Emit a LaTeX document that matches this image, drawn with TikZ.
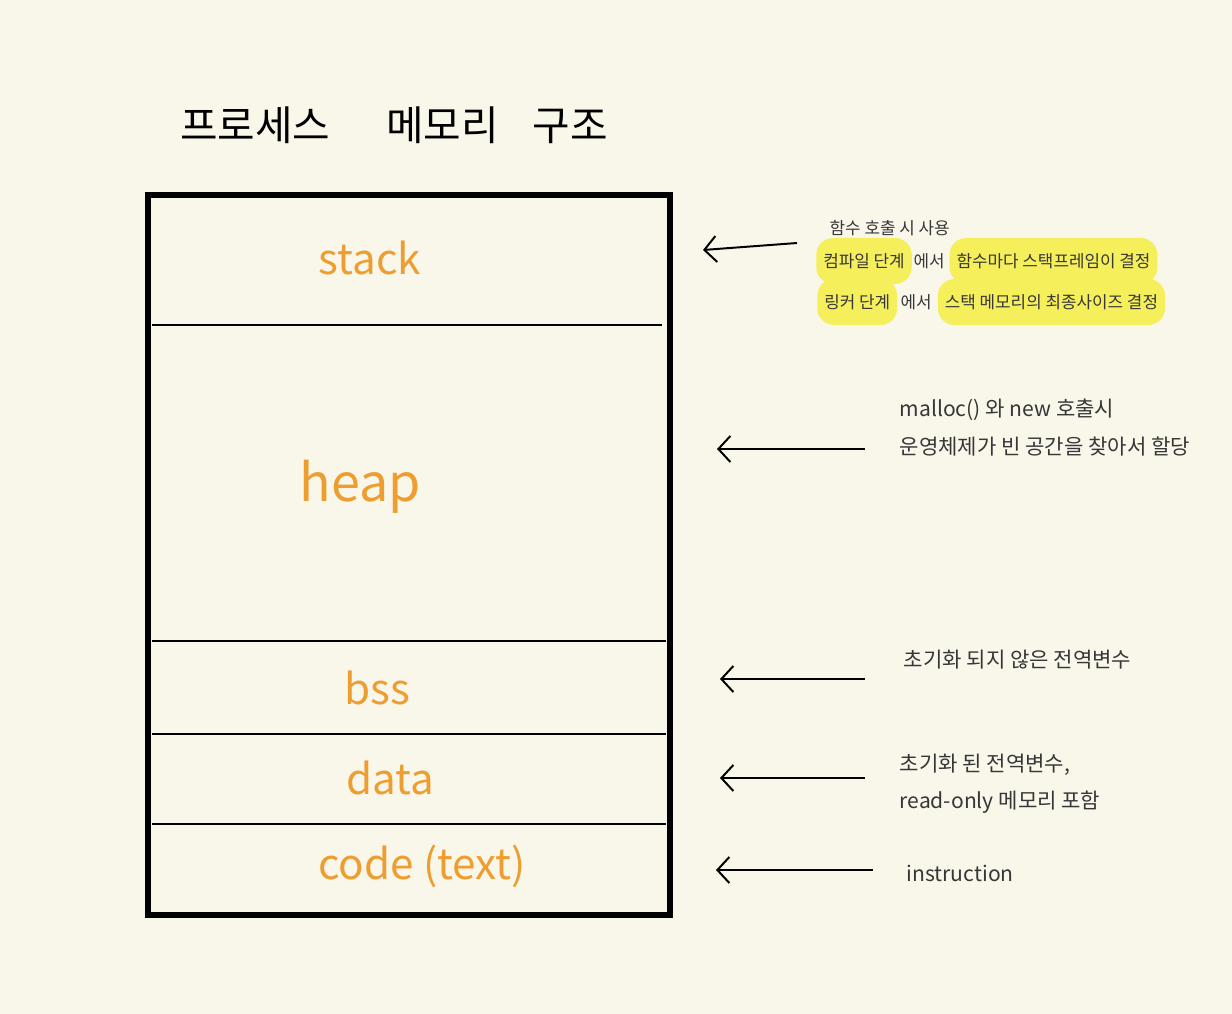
\documentclass[tikz,border=0pt]{standalone}
\usepackage{fontspec}
\setmainfont{Noto Sans CJK KR}
\usetikzlibrary{arrows.meta,positioning}
\definecolor{memFondo}{RGB}{249,246,234}
\definecolor{memNaranja}{RGB}{238,158,48}
\definecolor{memAmarillo}{RGB}{246,239,92}
\definecolor{memTinta}{RGB}{55,55,55}

\begin{document}
\begin{tikzpicture}[x=0.025cm, y=-0.025cm,
     seg/.style={text=memNaranja, font=\fontsize{30}{34}\selectfont},
     nota/.style={text=memTinta, anchor=west, inner sep=1pt, font=\fontsize{15}{18}\selectfont},
     notita/.style={text=memTinta, inner sep=1pt, font=\fontsize{12}{14}\selectfont},
     hl/.style={notita, fill=memAmarillo, rounded corners=12pt, inner xsep=5pt,
                minimum height=1.15cm},
     fl/.style={{Straight Barb[length=3mm, width=6.5mm, line width=1.4pt]}-, line width=1.4pt, black}]
    \fill[memFondo] (0,0) rectangle (1232,1014);
    % title
    \node[font=\fontsize{29}{34}\selectfont] (titulo) at (394,125)
      {프로세스\hspace{40pt}메모리\hspace{24pt}구조};
    % memory box
    \draw[line width=4.3pt] (148,195) rectangle (670,915);
    \draw[line width=2pt] (152,325) -- (662,325);
    \draw[line width=2pt] (152,641) -- (666,641);
    \draw[line width=2pt] (152,734) -- (666,734);
    \draw[line width=2pt] (152,824) -- (666,824);
    \node[seg] (stack) at (370,258) {stack};
    \node[seg, font=\fontsize{37}{40}\selectfont] (heap) at (360,487) {heap};
    \node[seg] (bss) at (377,688) {bss};
    \node[seg] (data) at (390,778) {data};
    \node[seg] (code) at (422,866) {code (text)};
    % stack notes
    \node[notita, anchor=west] (s1) at (828,228) {함수 호출 시 사용};
    \node[hl, anchor=west] (s2a) at (816,261) {컴파일 단계};
    \node[notita, right=0pt of s2a] (s2b) {에서};
    \node[hl, right=2pt of s2b] (s2c) {함수마다 스택프레임이 결정};
    \node[hl, anchor=west] (s3a) at (817,302) {링커 단계};
    \node[notita, right=1pt of s3a] (s3b) {에서};
    \node[hl, right=3pt of s3b] (s3c) {스택 메모리의 최종사이즈 결정};
    % other notes
    \node[nota] (h1) at (898,410) {malloc() 와 new 호출시};
    \node[nota] (h2) at (898,447) {운영체제가 빈 공간을 찾아서 할당};
    \node[nota] (b1) at (902,660) {초기화 되지 않은 전역변수};
    \node[nota] (d1) at (898,765) {초기화 된 전역변수,};
    \node[nota] (d2) at (898,802) {read-only 메모리 포함};
    \node[nota] (c1) at (905,873) {instruction};
    % arrows
    \coordinate (sp) at (703,250); \coordinate (sq) at (797,243);
    \coordinate (hp) at (717,449); \coordinate (hq) at (865,449);
    \coordinate (bp) at (720,679); \coordinate (bq) at (865,679);
    \coordinate (dp) at (720,778); \coordinate (dq) at (865,778);
    \coordinate (cp) at (716,870); \coordinate (cq) at (873,870);
    \draw[fl] (sp) -- (sq);
    \draw[fl] (hp) -- (hq);
    \draw[fl] (bp) -- (bq);
    \draw[fl] (dp) -- (dq);
    \draw[fl] (cp) -- (cq);
  \end{tikzpicture}
\end{document}
